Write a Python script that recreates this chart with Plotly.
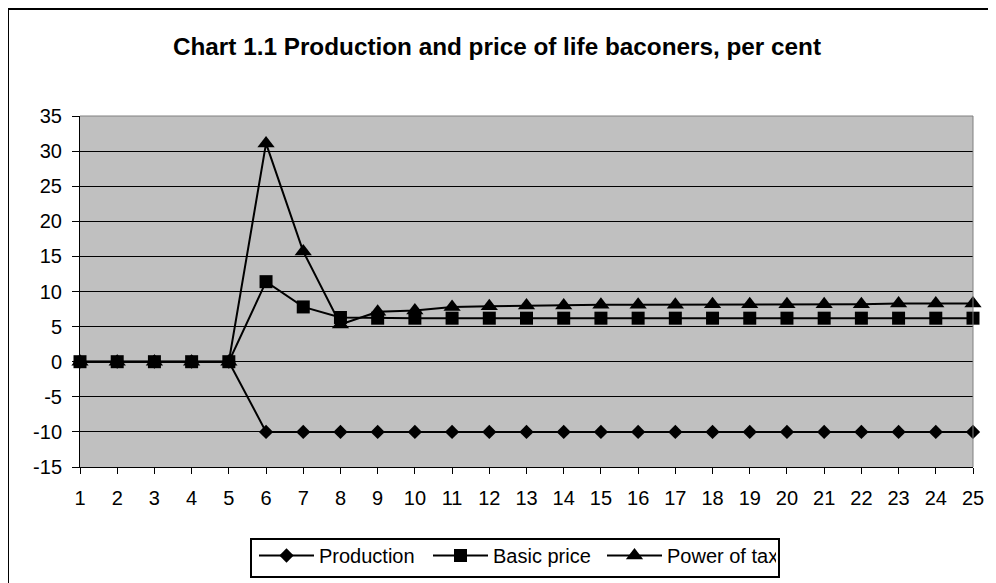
import plotly.graph_objects as go

periods = [1, 2, 3, 4, 5, 6, 7, 8, 9, 10, 11, 12, 13, 14, 15, 16, 17, 18, 19, 20, 21, 22, 23, 24, 25]
production = [0, 0, 0, 0, 0, -10, -10, -10, -10, -10, -10, -10, -10, -10, -10, -10, -10, -10, -10, -10, -10, -10, -10, -10, -10]
basic_price = [0, 0, 0, 0, 0, 11.4, 7.8, 6.3, 6.2, 6.2, 6.2, 6.2, 6.2, 6.2, 6.2, 6.2, 6.2, 6.2, 6.2, 6.2, 6.2, 6.2, 6.2, 6.2, 6.2]
power_of_tax = [0, 0, 0, 0, 0, 31.1, 15.7, 5.3, 7.1, 7.3, 7.8, 7.9, 8.0, 8.0, 8.1, 8.1, 8.1, 8.2, 8.2, 8.2, 8.2, 8.2, 8.3, 8.3, 8.3]
y_ticks = [-15, -10, -5, 0, 5, 10, 15, 20, 25, 30, 35]

FONT = "Liberation Sans, Arial, sans-serif"
# page is offset by the default 8px body margin
OFF = 8
W, H = 996 - OFF, 583 - OFF
PL, PR, PT, PB = 80, 973, 116, 467   # plot area in page pixels
L, R, T, B = PL - OFF, 996 - PR, PT - OFF, 583 - PB

def px2x(p):
    return (p - PL) / (PR - PL)

def px2y(p):
    return (PB - p) / (PB - PT)

fig = go.Figure()
fig.add_trace(go.Scatter(x=periods, y=production, name="Production", mode="lines+markers",
                         line=dict(color="black", width=2),
                         marker=dict(symbol="diamond", size=11, color="black"),
                         cliponaxis=False))
fig.add_trace(go.Scatter(x=periods, y=basic_price, name="Basic price", mode="lines+markers",
                         line=dict(color="black", width=2),
                         marker=dict(symbol="square", size=13, color="black"),
                         cliponaxis=False))
fig.add_trace(go.Scatter(x=periods, y=power_of_tax, name="Power of tax", mode="lines+markers",
                         line=dict(color="black", width=2),
                         marker=dict(symbol="triangle-up", size=15, color="black"),
                         cliponaxis=False))

fig.update_layout(
    width=W, height=H,
    margin=dict(l=L, r=R, t=T, b=B, autoexpand=False),
    paper_bgcolor="white",
    plot_bgcolor="#C0C0C0",
    font=dict(family=FONT, size=20, color="black"),
    title=dict(text="<b>Chart 1.1 Production and price of life baconers, per cent</b>",
               x=(497 - OFF) / W, xref="container", xanchor="center",
               y=1 - (46 - OFF) / H, yref="container", yanchor="middle",
               font=dict(family=FONT, size=24.3, color="black")),
    showlegend=True,
    legend=dict(orientation="h", x=px2x(515), xanchor="center", y=px2y(536), yanchor="top",
                borderwidth=0, bgcolor="rgba(0,0,0,0)",
                itemwidth=55, entrywidth=104, entrywidthmode="pixels",
                font=dict(family=FONT, size=20, color="black")),
    xaxis=dict(range=[1, 25], tickmode="array", tickvals=periods, ticktext=[str(p) for p in periods],
               showgrid=False, zeroline=False, showline=True, linecolor="black", linewidth=1,
               ticks="outside", ticklen=6, tickcolor="black", tickfont=dict(size=20),
               ticklabelstandoff=7),
    yaxis=dict(range=[-15, 35], tickmode="array", tickvals=y_ticks, ticktext=[str(v) for v in y_ticks],
               showgrid=True, gridcolor="black", gridwidth=1, zeroline=False,
               showline=True, linecolor="black", linewidth=1,
               ticks="outside", ticklen=7, tickcolor="black", tickfont=dict(size=20),
               ticklabelstandoff=6),
    shapes=[
        dict(type="line", xref="paper", yref="paper", x0=0, x1=1, y0=1, y1=1,
             line=dict(color="#808080", width=1)),
        dict(type="line", xref="paper", yref="paper", x0=1, x1=1, y0=0, y1=1,
             line=dict(color="#808080", width=1)),
        dict(type="rect", xref="paper", yref="paper", x0=px2x(8), x1=px2x(1010),
             y0=px2y(600), y1=px2y(9), line=dict(color="black", width=2), layer="below"),
        dict(type="rect", xref="paper", yref="paper", x0=px2x(251), x1=px2x(779),
             y0=px2y(577), y1=px2y(539), line=dict(color="black", width=2),
             fillcolor="rgba(0,0,0,0)", layer="above"),
    ],
)

fig.write_html("out.html")
